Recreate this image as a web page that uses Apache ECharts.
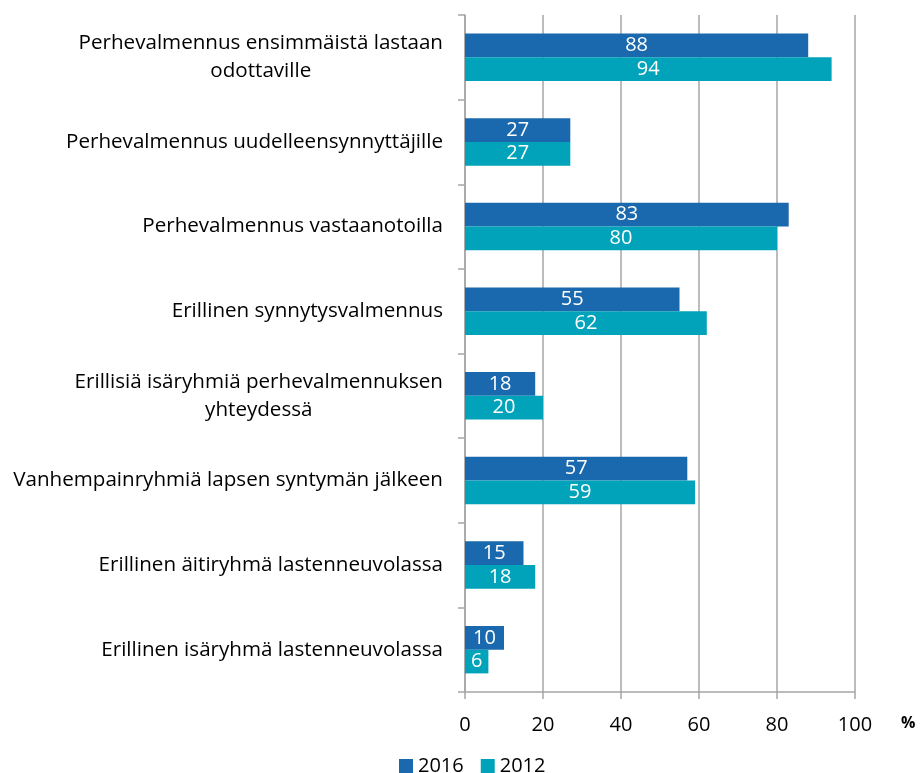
<!DOCTYPE html>
<html>
<head>
<meta charset="utf-8">
<style>
  html, body { margin: 0; padding: 0; background: #ffffff; }
  #chart { width: 921px; height: 773px; }
</style>
<script src="https://cdn.jsdelivr.net/npm/echarts@6/dist/echarts.min.js"></script>
</head>
<body>
<div id="chart"></div>
<script>
// Category labels (top to bottom); "\n" marks a line break
const categories = [
  'Perhevalmennus ensimmäistä lastaan\nodottaville',
  'Perhevalmennus uudelleensynnyttäjille',
  'Perhevalmennus vastaanotoilla',
  'Erillinen synnytysvalmennus',
  'Erillisiä isäryhmiä perhevalmennuksen\nyhteydessä',
  'Vanhempainryhmiä lapsen syntymän jälkeen',
  'Erillinen äitiryhmä lastenneuvolassa',
  'Erillinen isäryhmä lastenneuvolassa'
];
const seriesNames = ['2016', '2012'];
const values2016 = [88, 27, 83, 55, 18, 57, 15, 10];
const values2012 = [94, 27, 80, 62, 20, 59, 18, 6];
const xTicks = [0, 20, 40, 60, 80, 100];

const FONT = 'Open Sans';
const gridColor = '#A6A6A6';

const chart = echarts.init(document.getElementById('chart'), null, { renderer: 'canvas' });

const labelStyle = {
  show: true,
  position: 'inside',
  color: '#ffffff',
  fontFamily: FONT,
  fontSize: 20
};

chart.setOption({
  animation: false,
  textStyle: { fontFamily: FONT },
  grid: { left: 465, right: 66, top: 15, bottom: 81, containLabel: false },
  legend: {
    data: seriesNames,
    top: 756,
    left: 399,
    padding: 0,
    itemWidth: 14,
    itemHeight: 14,
    itemGap: 17,
    icon: 'rect',
    textStyle: { fontFamily: FONT, fontSize: 20, color: '#000000' }
  },
  xAxis: {
    type: 'value',
    min: xTicks[0],
    max: xTicks[xTicks.length - 1],
    interval: 20,
    name: '%',
    nameLocation: 'end',
    nameGap: 46,
    nameTextStyle: {
      fontFamily: FONT, fontSize: 16, fontWeight: 'bold', color: '#000000',
      verticalAlign: 'top', padding: [23, 0, 0, 0]
    },
    axisLine: { show: true, lineStyle: { color: gridColor, width: 1.5 } },
    axisTick: { show: true, length: 7, lineStyle: { color: gridColor, width: 1.5 } },
    axisLabel: { color: '#000000', fontSize: 20, fontFamily: FONT, margin: 23 },
    splitLine: { show: true, lineStyle: { color: gridColor, width: 1.5 } }
  },
  yAxis: {
    type: 'category',
    inverse: true,
    data: categories,
    axisLine: { show: true, lineStyle: { color: gridColor, width: 1.5 } },
    axisTick: { show: true, length: 7, alignWithLabel: false, lineStyle: { color: gridColor, width: 1.5 } },
    axisLabel: {
      color: '#000000',
      fontSize: 20.6,
      fontFamily: FONT,
      margin: 22,
      align: 'right',
      formatter: function (v) {
        return v.split('\n').map(function (line) { return '{c|' + line + '}'; }).join('\n');
      },
      rich: {
        c: { align: 'center', fontSize: 20.6, fontFamily: FONT, color: '#000000', lineHeight: 28 }
      }
    }
  },
  series: [
    {
      name: seriesNames[0],
      type: 'bar',
      data: values2016,
      barGap: '0%',
      barCategoryGap: '44%',
      itemStyle: { color: '#1A68AD' },
      label: labelStyle
    },
    {
      name: seriesNames[1],
      type: 'bar',
      data: values2012,
      barGap: '0%',
      barCategoryGap: '44%',
      itemStyle: { color: '#00A3B9' },
      label: labelStyle
    }
  ]
});
</script>
</body>
</html>
